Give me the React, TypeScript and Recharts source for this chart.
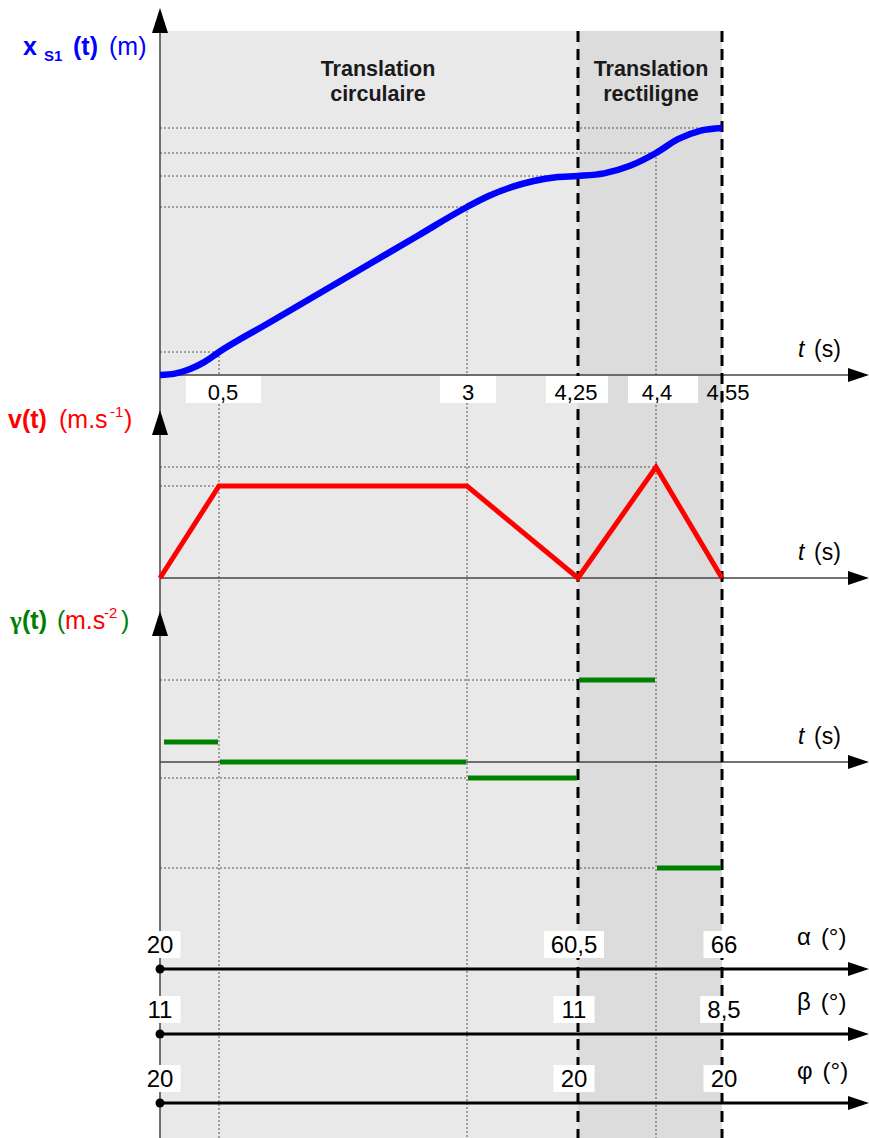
import React from 'react';
import { ComposedChart, Line, XAxis, YAxis, ReferenceArea, ReferenceLine, ReferenceDot } from 'recharts';

const W = 869;
const H = 1138;
const FONT = '"Liberation Sans", Arial, Helvetica, sans-serif';
const SYMBOL_FONT = '"Liberation Serif", "DejaVu Serif", serif';

// ---------------- data ----------------
const keyTimes = [0, 0.5, 3, 4.25, 4.4, 4.55];
const tickLabels = ['0,5', '3', '4,25', '4,4', '4,55'];

// x_S1(t) (m)
const xTimes = [0, 0.125, 0.25, 0.375, 0.5, 1, 1.5, 2, 2.5, 3, 3.25, 3.5, 3.75, 4, 4.25, 4.3, 4.35, 4.4, 4.45, 4.5, 4.55];
const xValues = [0, 0.014, 0.058, 0.129, 0.23, 0.52, 0.81, 1.1, 1.39, 1.68, 1.792, 1.878, 1.94, 1.978, 1.99, 2.016, 2.092, 2.22, 2.359, 2.442, 2.47];

// v(t) at the key instants (m/s)
const vValues = [0, 0.92, 0.92, 0, 1.11, 0];

// gamma(t) for each phase (m/s²)
const gammaValues = [2.0, 0, -1.6, 8.2, -10.6];

// angles at the phase limits
const angleTimes = [0, 4.25, 4.55];
const alphaValues = [20, 60.5, 66];
const betaValues = [11, 11, 8.5];
const phiValues = [20, 20, 20];
const angleNames = ['α', 'β', 'φ'];

const phaseNames = [
  ['Translation', 'circulaire'],
  ['Translation', 'rectiligne'],
];

// ---------------- layout ----------------
const slotX = [160, 219, 467, 578, 656, 722]; // schematic (non-linear) time axis slots
const X_DOMAIN = [-7.63, 3.75];
const V_DOMAIN = [-5.6, 5.78];
const G_DOMAIN = [-37.6, 76.2];
const PX_DOMAIN = [0, H];
const PANEL_TOP = 31;
const ARROW_TIP_X = 869;
const upArrowTips = [8, 410, 611];
const angleRowsY = [969, 1034, 1103];
const tickDx = [4, 1, -2, 1, 6];
const tickBox = [[4.5, 75], [1, 56], [-1, 62], [7, 70]];
const angleDx = [0, -4, 2];
const tSLabelY = [357, 560, 744];
const phaseDx = [9, 1];

const fmt = (n: number) => String(n).replace('.', ',');

const warp = (t: number) => {
  for (let i = 0; i < keyTimes.length - 1; i++) {
    const t0 = keyTimes[i];
    const t1 = keyTimes[i + 1];
    if (t <= t1 || i === keyTimes.length - 2) {
      return slotX[i] + ((t - t0) / (t1 - t0)) * (slotX[i + 1] - slotX[i]);
    }
  }
  return slotX[0];
};

const xData = xTimes.map((t, i) => ({ tx: warp(t), x: xValues[i] }));
const vData = keyTimes.map((t, i) => ({ tx: warp(t), v: vValues[i] }));
const gData: { tx: number; g: number | null }[] = [];
gammaValues.forEach((g, i) => {
  gData.push({ tx: warp(keyTimes[i]) + (i === 0 ? 4 : 1), g });
  gData.push({ tx: warp(keyTimes[i + 1]) - 1, g });
  if (i < gammaValues.length - 1) gData.push({ tx: warp(keyTimes[i + 1]), g: null });
});
const xAt = (t: number) => xValues[xTimes.indexOf(t)];

const DOT_STYLE = { stroke: '#555', strokeWidth: 1, strokeDasharray: '2 2' };

export default function App() {
  const X0 = warp(0);
  const els: React.ReactNode[] = [];
  let k = 0;
  const key = () => `e${k++}`;

  const dot = (x: number, y: number, axis: string, render: (cx: number, cy: number) => React.ReactElement, z: number) => (
    <ReferenceDot
      key={key()}
      x={x}
      y={y}
      yAxisId={axis}
      r={1}
      ifOverflow="visible"
      zIndex={z}
      shape={(p: any) => render(p.cx, p.cy)}
    />
  );
  const seg = (x1: number, y1: number, x2: number, y2: number, axis: string, style: any, z: number) => (
    <ReferenceLine
      key={key()}
      yAxisId={axis}
      segment={[{ x: x1, y: y1 }, { x: x2, y: y2 }]}
      ifOverflow="visible"
      zIndex={z}
      {...style}
    />
  );

  // backgrounds
  els.push(
    <ReferenceArea key={key()} yAxisId="px" x1={X0} x2={warp(4.25)} y1={PANEL_TOP} y2={H} fill="#e9e9e9" fillOpacity={1} stroke="none" ifOverflow="visible" zIndex={10} />,
    <ReferenceArea key={key()} yAxisId="px" x1={warp(4.25)} x2={warp(4.55)} y1={PANEL_TOP} y2={H} fill="#dcdcdc" fillOpacity={1} stroke="none" ifOverflow="visible" zIndex={10} />
  );

  // thin dotted construction lines (vertical)
  els.push(seg(warp(0.5), xAt(0.5), warp(0.5), X_DOMAIN[0], 'x', DOT_STYLE, 20));
  els.push(seg(warp(3), xAt(3), warp(3), X_DOMAIN[0], 'x', DOT_STYLE, 20));
  els.push(seg(warp(4.4), xAt(4.4), warp(4.4), X_DOMAIN[0], 'x', DOT_STYLE, 20));
  // horizontal x levels
  [0.5, 3, 4.25, 4.4, 4.55].forEach((t) => els.push(seg(X0, xAt(t), warp(t), xAt(t), 'x', DOT_STYLE, 20)));
  // v levels
  vValues.forEach((v, i) => {
    if (v > 0 && vValues[i - 1] !== v) els.push(seg(X0, v, warp(keyTimes[i]), v, 'v', DOT_STYLE, 20));
  });
  // gamma levels
  gammaValues.forEach((g, i) => {
    if (i > 0 && g !== 0) els.push(seg(X0, g, warp(keyTimes[i]), g, 'g', DOT_STYLE, 20));
  });

  // left vertical axis line
  const AX = { stroke: '#444', strokeWidth: 1.5 };
  els.push(seg(X0, PANEL_TOP - 5, X0, H, 'px', AX, 30));
  // time axes
  els.push(seg(X0, 0, ARROW_TIP_X - 18, 0, 'x', AX, 30));
  els.push(seg(X0, 0, ARROW_TIP_X - 18, 0, 'v', AX, 30));
  els.push(seg(X0, 0, ARROW_TIP_X - 18, 0, 'g', AX, 30));

  // thick dashed phase limits
  const DASH = { stroke: '#000', strokeWidth: 3, strokeDasharray: '11 7' };
  els.push(seg(warp(4.25), PANEL_TOP, warp(4.25), H, 'px', DASH, 40));
  els.push(seg(warp(4.55), PANEL_TOP, warp(4.55), H, 'px', DASH, 40));

  // tick labels with white boxes
  tickLabels.forEach((lab, i) => {
    const t = keyTimes[i + 1];
    const box = tickBox[i];
    els.push(
      dot(warp(t), 400, 'px', (cx, cy) => (
        <g>
          {box ? <rect x={cx + box[0] - box[1] / 2} y={cy - 24} width={box[1]} height={27} fill="#fff" /> : null}
          <text x={cx + tickDx[i]} y={cy} textAnchor="middle" fontFamily={FONT} fontSize={22} fill="#000">{lab}</text>
        </g>
      ), 50)
    );
  });

  // angle rows
  [alphaValues, betaValues, phiValues].forEach((vals, r) => {
    const rowY = angleRowsY[r];
    vals.forEach((val, j) => {
      const label = fmt(val);
      const tw = label.length * 12.5 - (label.includes(',') ? 6 : 0);
      els.push(
        dot(warp(angleTimes[j]), rowY, 'px', (cx, cy) => (
          <g>
            <rect x={cx + angleDx[j] - tw / 2 - 8} y={cy - 38} width={tw + 16} height={27} fill="#fff" />
            <text x={cx + angleDx[j]} y={cy - 16} textAnchor="middle" fontFamily={FONT} fontSize={24} fill="#000">{label}</text>
          </g>
        ), 50)
      );
    });
    els.push(seg(X0, rowY, ARROW_TIP_X - 18, rowY, 'px', { stroke: '#000', strokeWidth: 3 }, 60));
    els.push(dot(X0, rowY, 'px', (cx, cy) => <circle cx={cx} cy={cy} r={4.5} fill="#000" />, 60));
    els.push(dot(ARROW_TIP_X, rowY, 'px', (cx, cy) => (
      <polygon points={`${cx},${cy} ${cx - 21},${cy - 7} ${cx - 21},${cy + 7}`} fill="#000" />
    ), 60));
    els.push(dot(797, rowY - 24, 'px', (cx, cy) => (
      <text x={cx} y={cy} fontFamily={FONT} fontSize={24} fill="#000">{angleNames[r]}<tspan dx={10}>(°)</tspan></text>
    ), 90));
  });

  // arrowheads of time axes & "t (s)" labels
  ['x', 'v', 'g'].forEach((ax, i) => {
    els.push(dot(ARROW_TIP_X, 0, ax, (cx, cy) => (
      <polygon points={`${cx},${cy} ${cx - 21},${cy - 7} ${cx - 21},${cy + 7}`} fill="#000" />
    ), 80));
    els.push(dot(798, tSLabelY[i], 'px', (cx, cy) => (
      <text x={cx} y={cy} fontFamily={FONT} fontSize={23} fill="#000">
        <tspan fontStyle="italic">t</tspan>
        <tspan x={cx + 16}>(s)</tspan>
      </text>
    ), 90));
  });
  // vertical arrowheads
  upArrowTips.forEach((tip) => {
    els.push(dot(X0, tip, 'px', (cx, cy) => (
      <polygon points={`${cx},${cy} ${cx - 8},${cy + 25} ${cx + 8},${cy + 25}`} fill="#000" />
    ), 80));
  });

  // phase names
  phaseNames.forEach((lines, i) => {
    const cxT = i === 0 ? (warp(0) + warp(4.25)) / 2 + phaseDx[0] : (warp(4.25) + warp(4.55)) / 2 + phaseDx[1];
    els.push(dot(cxT, 76, 'px', (cx, cy) => (
      <text x={cx} y={cy} textAnchor="middle" fontFamily={FONT} fontSize={21.5} fontWeight="bold" fill="#1a1a1a">
        <tspan x={cx}>{lines[0]}</tspan>
        <tspan x={cx} dy={25}>{lines[1]}</tspan>
      </text>
    ), 90));
  });

  // titles
  els.push(dot(23, 55, 'px', (cx, cy) => (
    <text fontFamily={FONT} fill="#0000ff" fontSize={25}>
      <tspan x={cx} y={cy} fontWeight="bold">x</tspan>
      <tspan x={cx + 21} y={cy + 6} fontWeight="bold" fontSize={15}>S1</tspan>
      <tspan x={cx + 50} y={cy} fontWeight="bold">(t)</tspan>
      <tspan x={cx + 86} y={cy}>(m)</tspan>
    </text>
  ), 90));
  els.push(dot(8, 428, 'px', (cx, cy) => (
    <text fontFamily={FONT} fill="#ff0000" fontSize={25}>
      <tspan x={cx} y={cy} fontWeight="bold">v(t)</tspan>
      <tspan x={cx + 51} y={cy}>(m.s</tspan>
      <tspan x={cx + 102} y={cy - 11} fontSize={15}>-1</tspan>
      <tspan x={cx + 116} y={cy}>)</tspan>
    </text>
  ), 90));
  els.push(dot(10, 629, 'px', (cx, cy) => (
    <text fontFamily={FONT} fontSize={25}>
      <tspan x={cx} y={cy} fontWeight="bold" fill="#008000" fontFamily={SYMBOL_FONT}>γ</tspan>
      <tspan x={cx + 12} y={cy} fontWeight="bold" fill="#008000">(t)</tspan>
      <tspan x={cx + 47} y={cy} fill="#008000">(</tspan>
      <tspan x={cx + 55} y={cy} fill="#ff0000">m.s</tspan>
      <tspan x={cx + 94} y={cy - 11} fontSize={15} fill="#ff0000">-2</tspan>
      <tspan x={cx + 111} y={cy} fill="#008000">)</tspan>
    </text>
  ), 90));

  return (
    <div style={{ position: 'absolute', left: 0, top: 0, width: W, height: H, background: '#fff' }}>
      <ComposedChart width={W} height={H} margin={{ top: 0, right: 0, bottom: 0, left: 0 }}>
        <XAxis type="number" dataKey="tx" domain={[0, W]} hide allowDataOverflow />
        <YAxis yAxisId="x" type="number" domain={X_DOMAIN} hide allowDataOverflow />
        <YAxis yAxisId="v" type="number" domain={V_DOMAIN} hide allowDataOverflow />
        <YAxis yAxisId="g" type="number" domain={G_DOMAIN} hide allowDataOverflow />
        <YAxis yAxisId="px" type="number" domain={PX_DOMAIN} reversed hide allowDataOverflow />
        {els}
        <Line yAxisId="x" data={xData} dataKey="x" type="monotone" stroke="#0000ff" strokeWidth={6.5} dot={false} activeDot={false} isAnimationActive={false} zIndex={70} />
        <Line yAxisId="v" data={vData} dataKey="v" type="linear" stroke="#ff0000" strokeWidth={5} strokeLinejoin="miter" dot={false} activeDot={false} isAnimationActive={false} zIndex={70} />
        <Line yAxisId="g" data={gData} dataKey="g" type="linear" stroke="#008000" strokeWidth={5} dot={false} activeDot={false} connectNulls={false} isAnimationActive={false} zIndex={70} />
      </ComposedChart>
    </div>
  );
}
